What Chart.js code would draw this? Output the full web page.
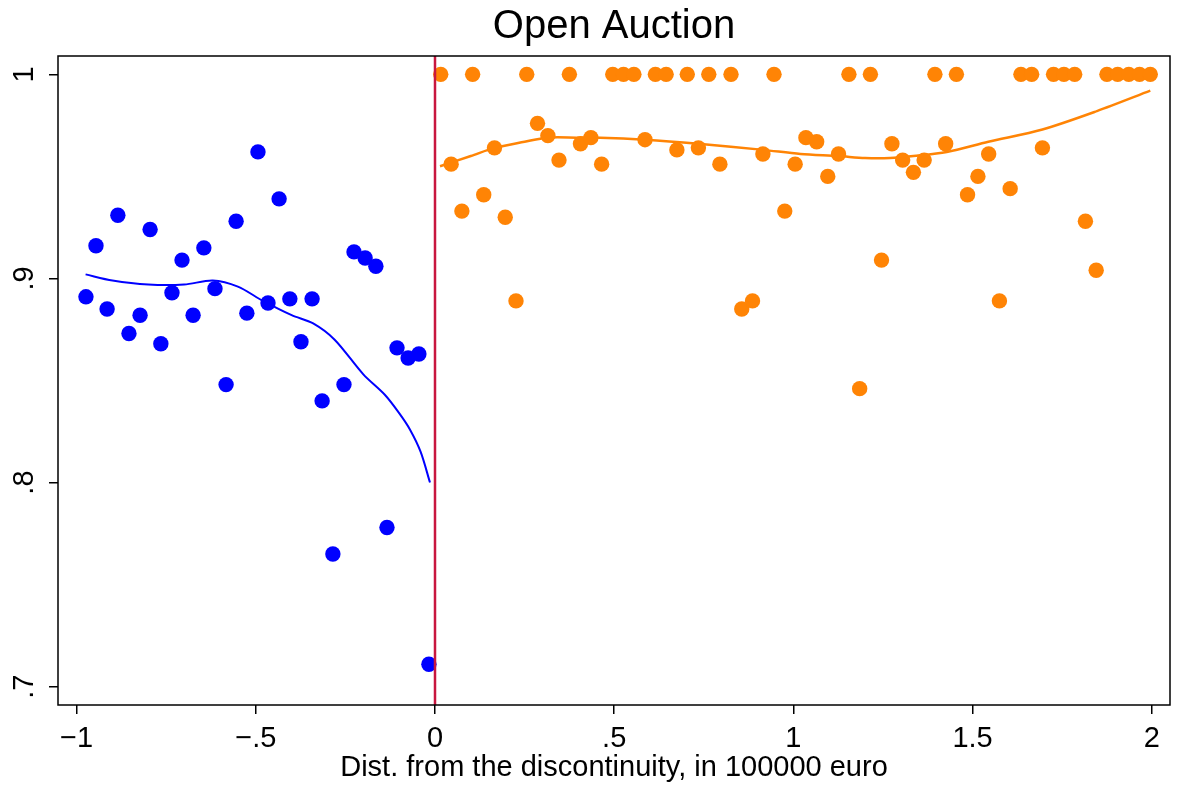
<!DOCTYPE html>
<html>
<head>
<meta charset="utf-8">
<script src="https://cdn.jsdelivr.net/npm/chart.js@4.4.1/dist/chart.umd.min.js"></script>
<style>
  html, body { margin: 0; padding: 0; background: #fff; }
  #wrap { width: 1178px; height: 790px; }
</style>
</head>
<body>
<div id="wrap"><canvas id="rdChart" width="1178" height="790"></canvas></div>
<script>
// binned means left of the cutoff
var blueX = [-0.974, -0.946, -0.915, -0.885, -0.854, -0.823, -0.795, -0.765, -0.734, -0.706,
             -0.675, -0.645, -0.614, -0.583, -0.555, -0.525, -0.494, -0.466, -0.435, -0.405,
             -0.374, -0.343, -0.315, -0.285, -0.254, -0.226, -0.195, -0.165, -0.134, -0.106,
             -0.075, -0.045, -0.017];
var blueY = [0.891, 0.916, 0.885, 0.931, 0.873, 0.882, 0.924, 0.868, 0.893, 0.909,
             0.882, 0.915, 0.895, 0.848, 0.928, 0.883, 0.962, 0.888, 0.939, 0.890,
             0.869, 0.890, 0.840, 0.765, 0.848, 0.913, 0.910, 0.906, 0.778, 0.866,
             0.861, 0.863, 0.711];

// binned means right of the cutoff
var orangeX = [0.016, 0.045, 0.075, 0.105, 0.136, 0.166, 0.196, 0.226, 0.256, 0.286,
               0.315, 0.346, 0.375, 0.406, 0.435, 0.465, 0.496, 0.526, 0.555, 0.586,
               0.615, 0.645, 0.675, 0.704, 0.735, 0.764, 0.795, 0.826, 0.856, 0.886,
               0.915, 0.946, 0.976, 1.005, 1.035, 1.065, 1.096, 1.126, 1.155, 1.185,
               1.215, 1.246, 1.275, 1.305, 1.335, 1.365, 1.395, 1.425, 1.455, 1.486,
               1.515, 1.545, 1.575, 1.605, 1.635, 1.665, 1.695, 1.726, 1.755, 1.785,
               1.815, 1.845, 1.875, 1.905, 1.936, 1.966, 1.996];
var orangeY = [1.000, 0.956, 0.933, 1.000, 0.941, 0.964, 0.930, 0.889, 1.000, 0.976,
               0.970, 0.958, 1.000, 0.966, 0.969, 0.956, 1.000, 1.000, 1.000, 0.968,
               1.000, 1.000, 0.963, 1.000, 0.964, 1.000, 0.956, 1.000, 0.885, 0.889,
               0.961, 1.000, 0.933, 0.956, 0.969, 0.967, 0.950, 0.961, 1.000, 0.846,
               1.000, 0.909, 0.966, 0.958, 0.952, 0.958, 1.000, 0.966, 1.000, 0.941,
               0.950, 0.961, 0.889, 0.944, 1.000, 1.000, 0.964, 1.000, 1.000, 1.000,
               0.928, 0.904, 1.000, 1.000, 1.000, 1.000, 1.000];

// lowess fits
var blueFitX = [-0.975, -0.90, -0.80, -0.70, -0.62, -0.55, -0.48, -0.40, -0.34, -0.28,
                -0.20, -0.14, -0.10, -0.07, -0.04, -0.014];
var blueFitY = [0.902, 0.899, 0.897, 0.897, 0.899, 0.896, 0.889, 0.882, 0.878, 0.870,
                0.853, 0.843, 0.834, 0.826, 0.815, 0.800];
var orangeFitX = [0.014, 0.10, 0.166, 0.25, 0.312, 0.40, 0.461, 0.586, 0.735, 0.916,
                  1.02, 1.126, 1.20, 1.27, 1.335, 1.428, 1.544, 1.695, 1.847, 1.996];
var orangeFitY = [0.955, 0.960, 0.964, 0.967, 0.969, 0.969, 0.969, 0.968, 0.966, 0.963,
                  0.961, 0.960, 0.959, 0.959, 0.960, 0.962, 0.967, 0.973, 0.982, 0.992];

// axes
var xMin = -1.052, xMax = 2.051;
var yMin = 0.691, yMax = 1.009;
var xTicks = [-1, -0.5, 0, 0.5, 1, 1.5, 2];
var xTickLabels = ['\u22121', '\u2212.5', '0', '.5', '1', '1.5', '2'];
var yTicks = [0.7, 0.8, 0.9, 1];
var yTickLabels = ['.7', '.8', '.9', '1'];
var cutoffX = [0, 0];
var cutoffY = [yMin, yMax];

function pts(xs, ys) {
    return xs.map(function(x, i) { return { x: x, y: ys[i] }; });
}

function labelFor(vals, labels) {
    return function(value) {
        for (var i = 0; i < vals.length; i++) {
            if (Math.abs(vals[i] - value) < 1e-9) return labels[i];
        }
        return '';
    };
}

var FONT = 'Liberation Sans, Arial, Helvetica, sans-serif';

// plot box around the chart area
var frame = {
    id: 'frame',
    afterDatasetsDraw: function(chart) {
        var a = chart.chartArea, c = chart.ctx;
        c.save();
        c.strokeStyle = '#000';
        c.lineWidth = 1.5;
        c.strokeRect(a.left, a.top, a.right - a.left, a.bottom - a.top);
        c.restore();
    }
};

document.addEventListener("DOMContentLoaded", function() {
    var ctx = document.getElementById('rdChart').getContext('2d');
    var rdChart = new Chart(ctx, {
        type: 'scatter',
        data: {
            datasets: [{
                data: pts(cutoffX, cutoffY),
                showLine: true,
                borderColor: '#c8173f',
                borderWidth: 2.5,
                pointRadius: 0,
                order: -1
            }, {
                data: pts(blueX, blueY),
                backgroundColor: '#0000ff',
                borderWidth: 0,
                pointRadius: 7.7,
                order: 0
            }, {
                data: pts(orangeX, orangeY),
                backgroundColor: '#ff8405',
                borderWidth: 0,
                pointRadius: 7.7,
                order: 0
            }, {
                data: pts(blueFitX, blueFitY),
                showLine: true,
                borderColor: '#0000ff',
                borderWidth: 2,
                pointRadius: 0,
                tension: 0.3,
                order: 1
            }, {
                data: pts(orangeFitX, orangeFitY),
                showLine: true,
                borderColor: '#ff8405',
                borderWidth: 2.5,
                pointRadius: 0,
                tension: 0.3,
                order: 1
            }]
        },
        options: {
            responsive: false,
            animation: false,
            events: [],
            layout: { padding: { left: 0, right: 8, top: 0, bottom: 0 }, autoPadding: false },
            plugins: {
                legend: { display: false },
                tooltip: { enabled: false },
                title: {
                    display: true,
                    fullSize: false,
                    text: 'Open Auction',
                    color: '#000',
                    font: { family: FONT, size: 40, weight: 'normal', lineHeight: 1.2 },
                    padding: { top: 3, bottom: 5 }
                }
            },
            scales: {
                x: {
                    type: 'linear',
                    min: xMin,
                    max: xMax,
                    afterBuildTicks: function(s) { s.ticks = xTicks.map(function(v) { return { value: v }; }); },
                    afterFit: function(s) { s.height = 85; },
                    border: { display: false },
                    grid: { drawOnChartArea: false, drawTicks: true, tickLength: 9, color: '#000', lineWidth: 1.5 },
                    ticks: {
                        color: '#000',
                        padding: 10,
                        maxRotation: 0,
                        minRotation: 0,
                        font: { family: FONT, size: 29, lineHeight: 1 },
                        callback: labelFor(xTicks, xTickLabels)
                    },
                    title: {
                        display: true,
                        text: 'Dist. from the discontinuity, in 100000 euro',
                        color: '#000',
                        font: { family: FONT, size: 29, lineHeight: 1 },
                        padding: { top: 0, bottom: 8 }
                    }
                },
                y: {
                    type: 'linear',
                    min: yMin,
                    max: yMax,
                    afterBuildTicks: function(s) { s.ticks = yTicks.map(function(v) { return { value: v }; }); },
                    afterFit: function(s) { s.width = 58; },
                    border: { display: false },
                    grid: { drawOnChartArea: false, drawTicks: true, tickLength: 9, color: '#000', lineWidth: 1.5 },
                    ticks: {
                        color: '#000',
                        padding: 12,
                        minRotation: 90,
                        maxRotation: 90,
                        crossAlign: 'center',
                        font: { family: FONT, size: 29, lineHeight: 1 },
                        callback: labelFor(yTicks, yTickLabels)
                    }
                }
            }
        },
        plugins: [frame]
    });
});
</script>
</body>
</html>
